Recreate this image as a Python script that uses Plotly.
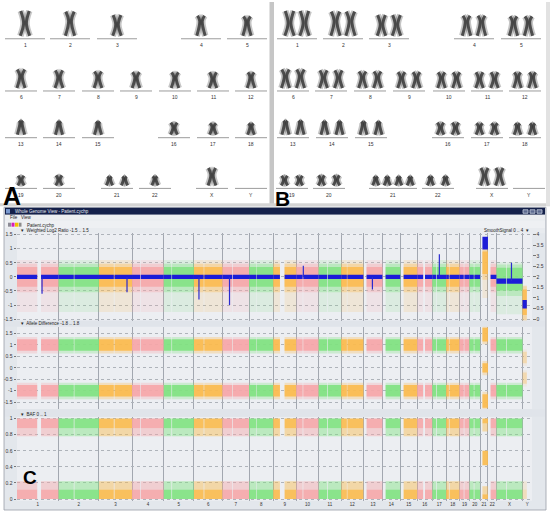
import plotly.graph_objects as go

W, H = 550, 513

# ---------------- karyotype data ----------------
CHROMS = [str(i) for i in range(1, 23)] + ["X", "Y"]
LENGTH_MB = [249, 242, 198, 190, 181, 171, 159, 145, 138, 134, 135, 133,
             114, 107, 102, 90, 83, 80, 59, 64, 47, 51, 156, 57]
CENTROMERE_MB = [123, 93, 91, 50, 48, 60, 60, 45, 43, 40, 53, 35,
                 14, 13, 15, 36, 25, 18, 26, 28, 10, 12, 60, 10]
COPIES_A = [1] * 20 + [2, 1, 1, 0]
COPIES_B = [2] * 20 + [4, 2, 2, 0]

# ---------------- genome view data (one value per chromosome) ----------------
GAP_START_MB = [121, 91, 89, 48, 46, 58, 58, 44, 40, 38, 51, 34, 0, 0, 0, 35, 23, 16, 25, 26, 0, 0, 58, 26]
GAP_END_MB = [144, 95, 93, 52, 50, 62, 62, 47, 68, 42, 55, 37, 19, 19, 20, 46, 27, 20, 29, 30, 14, 16, 62, 57]
LOG2_LEVEL = [0] * 20 + [0.5, 0, -0.08, -0.9]
LOG2_SPREAD = [0.35] * 20 + [0.4, 0.35, 0.4, 0.45]
SMOOTH_SIGNAL = [2] * 20 + [3.6, 2, 1.8, 0.7]
SMOOTH_NOISE = [0.1] * 20 + [0.3, 0.1, 0.12, 0.2]
ALLELE_DIFF = [[1, -1]] * 20 + [[1.45, 0, -1.45], [1, -1], [1, -1], [0.45, -0.45]]
BAF = [[0, 1]] * 20 + [[0, 0.51, 1], [0, 1], [0, 1], [0]]
DENSITY = [1] * 23 + [0.35]
SPIKE_CHROM = ["1", "3", "6", "7", "10", "13", "17", "X"]
SPIKE_MB = [150, 168, 30, 42, 42, 54, 42, 90]
SPIKE_SIGNAL = [1.2, 1.27, 0.93, 0.67, 2.53, 1.4, 3.07, 2.67]

# ---------------- karyotype layout (pixels) ----------------
KARYO_ROW = [0] * 5 + [1] * 7 + [2] * 6 + [3] * 6
ROW_LINE_Y = [37, 89.5, 136.5, 187.5]
A_CENTER_X = [25, 70, 117, 201, 247, 21, 59, 98, 136, 175, 213, 251,
              21, 59, 98, 174, 213, 251, 21, 59, 117, 155, 212, 251]
B_CENTER_X = [297, 343, 389, 474, 521, 293, 331, 370, 409, 449, 487, 525,
              293, 332, 371, 448, 487, 525, 292, 329, 393, 438, 492, 529]

CYCLE = [(246, 166, 168), (128, 226, 128), (251, 186, 76)]
FONT = "Liberation Sans"


def rgba(rgb, a):
    return f"rgba({rgb[0]},{rgb[1]},{rgb[2]},{a:.2f})"


def pxx(x):
    return x / W


def pxy(y):
    return 1 - y / H


fig = go.Figure()

# ---------------- panel C data ----------------
offsets = []
acc = 0
for L in LENGTH_MB:
    offsets.append(acc)
    acc += L
GENOME_MB = acc
centers = [o + L / 2 for o, L in zip(offsets, LENGTH_MB)]
boundaries = offsets + [GENOME_MB]

store_names = ["log2_faint", "log2_mid", "log2_dense", "ad_faint", "ad_dense",
               "baf_faint", "baf_dense", "smooth"]
stores = {k: dict(x=[], w=[], base=[], y=[], c=[]) for k in store_names}


def band(name, seg, lo, hi, color):
    s = stores[name]
    s["x"].append((seg[0] + seg[1]) / 2)
    s["w"].append(seg[1] - seg[0])
    s["base"].append(lo)
    s["y"].append(hi - lo)
    s["c"].append(color)


for i, chrom in enumerate(CHROMS):
    L = LENGTH_MB[i]
    segs = []
    if GAP_START_MB[i] > 0:
        segs.append((0, GAP_START_MB[i]))
    if GAP_END_MB[i] < L:
        segs.append((GAP_END_MB[i], L))
    col = CYCLE[i % 3]
    dens = DENSITY[i]
    for a, b in segs:
        seg = (offsets[i] + a, offsets[i] + b)
        lvl, sp = LOG2_LEVEL[i], LOG2_SPREAD[i]
        band("log2_faint", seg, lvl - 1.25, lvl + 0.6, rgba(col, 0.16))
        band("log2_mid", seg, lvl - sp - 0.2, lvl + sp + 0.12, rgba(col, 0.35))
        band("log2_dense", seg, lvl - sp, lvl + sp, rgba(col, 0.85))
        sig, nz = SMOOTH_SIGNAL[i], SMOOTH_NOISE[i]
        band("smooth", seg, sig - nz, sig + nz, "#1c1cd8")
        three = len(ALLELE_DIFF[i]) == 3
        for c in ALLELE_DIFF[i]:
            half = 0.2 if c == 0 else (0.3 if three else 0.25)
            band("ad_faint", seg, c - half - 0.12, c + half + 0.1, rgba(col, 0.3 * dens))
            band("ad_dense", seg, c - half, c + half, rgba(col, 0.9 * dens))
        tri = len(BAF[i]) == 3
        for v in BAF[i]:
            d = 0.06 if tri else 0.12
            if v == 1:
                band("baf_dense", seg, 1 - d, 1, rgba(col, 0.9 * dens))
                band("baf_faint", seg, 1 - d - 0.1, 1 - d, rgba(col, 0.45 * dens))
            elif v == 0:
                band("baf_dense", seg, 0, d, rgba(col, 0.9 * dens))
                band("baf_faint", seg, d, d + 0.1, rgba(col, 0.45 * dens))
            else:
                band("baf_dense", seg, v - 0.09, v + 0.09, rgba(col, 0.9 * dens))

AXES = {"log2": ("x", "y"), "ad": ("x2", "y2"), "baf": ("x3", "y3"), "smooth": ("x", "y4")}
for name in store_names:
    s = stores[name]
    xa, ya = AXES[name.split("_")[0]]
    fig.add_trace(go.Bar(x=s["x"], y=s["y"], base=s["base"], width=s["w"],
                         marker=dict(color=s["c"], line_width=0),
                         xaxis=xa, yaxis=ya, hoverinfo="skip", showlegend=False))

# spikes of the smoothed signal
sx, sy = [], []
for ch, mb, val in zip(SPIKE_CHROM, SPIKE_MB, SPIKE_SIGNAL):
    i = CHROMS.index(ch)
    sx += [offsets[i] + mb, offsets[i] + mb, None]
    sy += [SMOOTH_SIGNAL[i], val, None]
fig.add_trace(go.Scatter(x=sx, y=sy, mode="lines", line=dict(color="#2a2ad0", width=1.2),
                         xaxis="x", yaxis="y4", hoverinfo="skip", showlegend=False))

# ---------------- panels A and B: karyotypes ----------------
def karyo_paths(center_x, copies):
    xs, ys = [], []
    for i in range(len(CHROMS)):
        n = copies[i]
        if n == 0:
            continue
        L = LENGTH_MB[i]
        h = 5 + 0.08 * L
        w = 2.2 + 0.1 * h
        sp = min(15, 46 / n)
        bottom = ROW_LINE_Y[KARYO_ROW[i]] - 3
        top = bottom - h
        frac = CENTROMERE_MB[i] / L
        ycen = top + h * frac
        top_off = w * (0.3 + 0.6 * min(1, frac / 0.3))
        for k in range(n):
            cx = center_x[i] + (k - (n - 1) / 2) * sp
            for sgn in (-1, 1):
                xs += [cx + sgn * top_off, cx + sgn * w * 0.3, cx + sgn * w, None]
                ys += [top, ycen, bottom, None]
    return xs, ys


def karyo_lines(center_x, wide):
    xs, ys = [], []
    for i in range(len(CHROMS)):
        half = 20 if KARYO_ROW[i] == 0 else 16
        if CHROMS[i] in wide:
            half = 24
        y = ROW_LINE_Y[KARYO_ROW[i]]
        xs += [center_x[i] - half, center_x[i] + half, None]
        ys += [y, y, None]
    return xs, ys


for cxs, copies, wide in [(A_CENTER_X, COPIES_A, []), (B_CENTER_X, COPIES_B, ["21"])]:
    lx, ly = karyo_lines(cxs, wide)
    fig.add_trace(go.Scatter(x=lx, y=ly, mode="lines", line=dict(color="#9c9c9c", width=1),
                             xaxis="x7", yaxis="y7", hoverinfo="skip", showlegend=False))
    kx, ky = karyo_paths(cxs, copies)
    fig.add_trace(go.Scatter(x=kx, y=ky, mode="lines",
                             line=dict(color="rgba(90,90,90,0.35)", width=6.5, shape="spline"),
                             xaxis="x7", yaxis="y7", hoverinfo="skip", showlegend=False))
    fig.add_trace(go.Scatter(x=kx, y=ky, mode="lines",
                             line=dict(color="rgba(55,55,55,0.85)", width=3, shape="spline"),
                             xaxis="x7", yaxis="y7", hoverinfo="skip", showlegend=False))

annotations = []
for cxs in (A_CENTER_X, B_CENTER_X):
    for i, ch in enumerate(CHROMS):
        annotations.append(dict(x=cxs[i], y=ROW_LINE_Y[KARYO_ROW[i]] + 6.5, text=ch,
                                showarrow=False, font=dict(size=5, color="#333", family=FONT)))


def note(x, y, text, size=5, color="#222", xanchor="left", bold=False, family=FONT):
    if bold:
        text = f"<b>{text}</b>"
    annotations.append(dict(x=x, y=y, text=text, showarrow=False, xanchor=xanchor,
                            font=dict(size=size, color=color, family=family)))


note(1, 195, "A", size=25, color="#000", bold=True, family="Liberation Sans")
note(273, 198, "B", size=21, color="#000", bold=True, family="Liberation Sans")
note(21, 478, "C", size=19, color="#000", bold=True, family="Liberation Sans")
note(13, 210.5, "Whole Genome View - Patient.cychp", size=4.5, color="#e8ecf5")
note(8, 216.6, "File   View", size=4.5)
note(25, 224.5, "Patient.cychp", size=4.5)
note(19, 230.3, "\u25be  Weighted Log2 Ratio -1.5 .. 1.5", size=4.5)
note(531, 230.3, "SmoothSignal 0 .. 4  \u25be", size=4.5, xanchor="right")
note(19, 323.3, "\u25be  Allele Difference -1.8 .. 1.8", size=4.5)
note(19, 414.5, "\u25be  BAF 0 .. 1", size=4.5)
for a in annotations:
    a["xref"], a["yref"] = "x7", "y7"

# ---------------- background shapes ----------------
shapes = []


def rect(x0, y0, x1, y1, fill, line=None):
    shapes.append(dict(type="rect", xref="paper", yref="paper", layer="below",
                       x0=pxx(x0), x1=pxx(x1), y0=pxy(y1), y1=pxy(y0), fillcolor=fill,
                       line=dict(width=0.8 if line else 0, color=line or fill)))


rect(269.5, 0, 274, 205, "#c6c6c6")
rect(0, 202.5, 550, 205.5, "#d4d4d4")
rect(546, 0, 550, 205, "#e2e2e2")
rect(4, 206.5, 546, 511, "#e3e7ec", "#9aa0a8")
rect(5, 207, 545, 214, "#14204a")
rect(6, 208.3, 10, 212.7, "#7a9ad0")
for bx in (523, 530, 537):
    rect(bx, 209, bx + 5, 212.5, "#5d6a90", "#c9d0e0")
rect(5, 214, 545, 219, "#eceef1")
rect(5, 219.5, 545, 227.5, "#eef0f3")
rect(8, 222, 11, 226, "#8c8c96")
rect(11.5, 222, 14.5, 226, "#d61fb8")
rect(15, 222, 18.5, 226, "#f2c200")
rect(19, 222, 21.5, 226, "#8c8c8c")
rect(5, 227.5, 545, 232.6, "#e8ebef")
for top, bot in ((232.6, 320.4), (326.6, 409.4), (417.4, 501.6)):
    rect(17, top, 532, bot, "#eceef2")
rect(5, 320.6, 545, 326.4, "#e0e4ea")
rect(5, 409.6, 545, 417.2, "#e0e4ea")

# ---------------- axes ----------------
x_common = dict(domain=[pxx(17), pxx(532)], range=[0, GENOME_MB], showgrid=False, zeroline=False,
                showline=False, tickmode="array", tickvals=centers, ticktext=CHROMS, ticks="",
                minor=dict(tickmode="array", tickvals=boundaries, showgrid=True,
                           gridcolor="#a2a7b0", gridwidth=1, ticks=""),
                tickfont=dict(size=4.5, color="#333", family=FONT), fixedrange=True)


def y_axis(dom_px, rng, vals, texts, side="left", overlay=None, anchor="x"):
    d = dict(domain=[pxy(dom_px[1]), pxy(dom_px[0])], range=rng, tickmode="array",
             tickvals=vals, ticktext=texts, ticks="outside", ticklen=2.5, tickcolor="#777",
             tickfont=dict(size=5, color="#333", family=FONT), zeroline=False,
             showgrid=overlay is None, gridcolor="#aeb3ba", griddash="dot", gridwidth=1,
             side=side, anchor=anchor, fixedrange=True, showline=False)
    if overlay:
        d["overlaying"] = overlay
    return d


LOG2_TICKS = [-1.5, -1, -0.5, 0, 0.5, 1, 1.5]
SMOOTH_TICKS = [0, 0.5, 1, 1.5, 2, 2.5, 3, 3.5, 4]
BAF_TICKS = [0, 0.2, 0.4, 0.6, 0.8, 1]


def fmt(v):
    return ("-" if v < 0 else "") + f"{abs(v):g}"


t1, t2, t3 = (232.6, 320.4), (326.6, 409.4), (417.4, 501.6)
fig.update_layout(
    width=W, height=H, autosize=False, margin=dict(l=0, r=0, t=0, b=0),
    paper_bgcolor="white", plot_bgcolor="rgba(0,0,0,0)", barmode="overlay", showlegend=False,
    xaxis={**x_common, "anchor": "y", "showticklabels": False},
    xaxis2={**x_common, "anchor": "y2", "showticklabels": False},
    xaxis3={**x_common, "anchor": "y3", "showticklabels": True},
    yaxis=y_axis(t1, [-1.55, 1.55], LOG2_TICKS, [fmt(v) for v in LOG2_TICKS]),
    yaxis4=y_axis(t1, [2 - 1.55 * 4 / 3, 2 + 1.55 * 4 / 3], SMOOTH_TICKS,
                  [fmt(v) for v in SMOOTH_TICKS], side="right", overlay="y", anchor="x"),
    yaxis2=y_axis(t2, [-1.8, 1.8], LOG2_TICKS, [fmt(v) for v in LOG2_TICKS], anchor="x2"),
    yaxis5=y_axis(t2, [-1.8, 1.8], LOG2_TICKS, [fmt(v) for v in LOG2_TICKS],
                  side="right", overlay="y2", anchor="x2"),
    yaxis3=y_axis(t3, [-0.02, 1.02], BAF_TICKS, [fmt(v) for v in BAF_TICKS], anchor="x3"),
    yaxis6=y_axis(t3, [-0.02, 1.02], BAF_TICKS, [fmt(v) for v in BAF_TICKS],
                  side="right", overlay="y3", anchor="x3"),
    xaxis7=dict(domain=[0, 1], range=[0, W], visible=False, anchor="y7", fixedrange=True),
    yaxis7=dict(domain=[0, 1], range=[H, 0], visible=False, anchor="x7", fixedrange=True),
    shapes=shapes, annotations=annotations,
)

fig.write_html("out.html", config={"displayModeBar": False},
               post_script="document.body.style.margin='0';document.body.style.overflow='hidden';")
